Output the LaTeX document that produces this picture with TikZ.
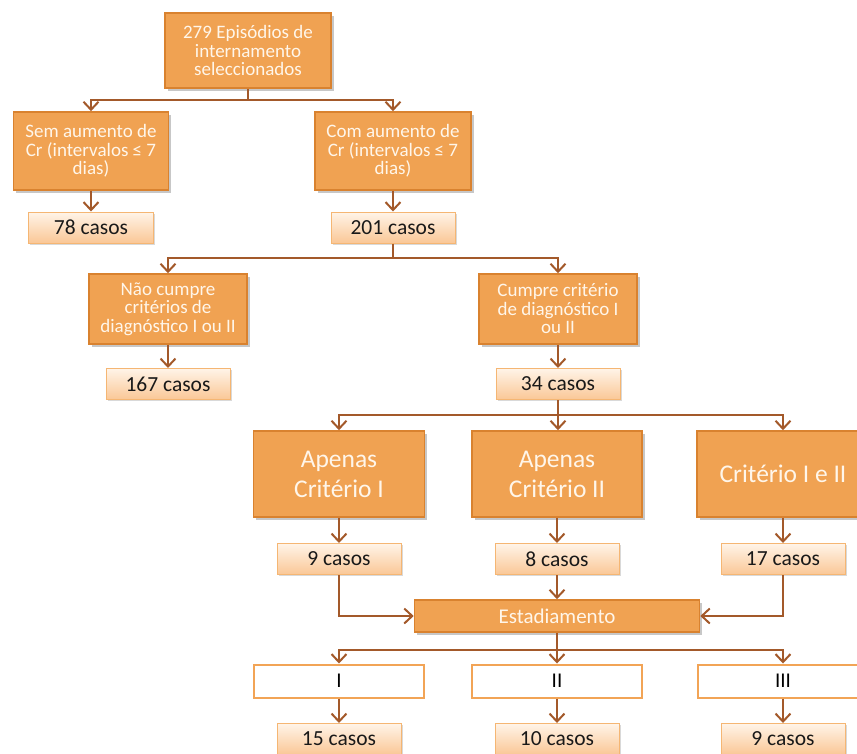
\documentclass[tikz,border=0pt]{standalone}
\usepackage{fontspec}
\setmainfont{Carlito}
\usetikzlibrary{arrows.meta,shadows}
\definecolor{boxfill}{HTML}{F0A252}
\definecolor{boxline}{HTML}{D9822F}
\definecolor{arrowc}{HTML}{A3592A}
\definecolor{cntline}{HTML}{F5B673}
\definecolor{cnttop}{HTML}{FFF4E8}
\definecolor{cntbot}{HTML}{FAC796}
\definecolor{lvline}{HTML}{F2A456}
\definecolor{txtw}{HTML}{FFF6EA}
\tikzset{
  stagebox/.style={draw=boxline, line width=1.6pt, fill=boxfill, text=txtw,
    align=center, inner sep=0pt,
    drop shadow={shadow xshift=2.5pt, shadow yshift=-2.5pt, fill=black, opacity=0.22}},
  countbox/.style={draw=cntline, line width=1pt, top color=cnttop, bottom color=cntbot,
    text=black!90, inner sep=0pt, minimum height=31pt,
    font=\fontsize{21.5}{24}\selectfont,
    drop shadow={shadow xshift=1.5pt, shadow yshift=-1.5pt, fill=black, opacity=0.15}},
  levelbox/.style={draw=lvline, line width=2pt, fill=white, text=black,
    inner sep=0pt, minimum width=170pt, minimum height=33pt,
    font=\fontsize{21}{24}\selectfont},
  link/.style={draw=arrowc, line width=2pt},
  arr/.style={link, -{Straight Barb[length=8pt,width=15pt,line width=2pt]}},
  smalltxt/.style={font=\fontsize{19}{18.5}\selectfont},
  bigtxt/.style={font=\fontsize{25.5}{30}\selectfont}
}
\begin{document}
\begin{tikzpicture}[x=1pt,y=-1pt]
\useasboundingbox (0,0) rectangle (857,753);
\begin{scope}
\clip (0,0) rectangle (857,753);

% first split: creatinine rise
\node[stagebox, smalltxt, minimum width=166pt, minimum height=75pt] (top) at (248,50.5)
  {279 Episódios de\\internamento\\seleccionados};
\node[stagebox, smalltxt, minimum width=155pt, minimum height=78pt] (sem) at (91,151)
  {Sem aumento de\\Cr (intervalos ≤ 7\\dias)};
\node[stagebox, smalltxt, minimum width=156pt, minimum height=78pt] (com) at (393,151)
  {Com aumento de\\Cr (intervalos ≤ 7\\dias)};
\node[countbox, minimum width=125pt] (c78) at (91,227.5) {78 casos};
\node[countbox, minimum width=124pt] (c201) at (393,227.5) {201 casos};

% second split: diagnostic criteria
\node[stagebox, smalltxt, minimum width=158pt, minimum height=70pt] (nao) at (168,309)
  {Não cumpre\\critérios de\\diagnóstico I ou II};
\node[stagebox, smalltxt, minimum width=158pt, minimum height=70pt] (cum) at (558,309)
  {Cumpre critério\\de diagnóstico I\\ou II};
\node[countbox, minimum width=124pt] (c167) at (168,384) {167 casos};
\node[countbox, minimum width=124pt] (c34) at (558,384) {34 casos};

% third split: which criterion
\node[stagebox, bigtxt, minimum width=171pt, minimum height=86pt] (ap1) at (339,474)
  {Apenas\\Critério I};
\node[stagebox, bigtxt, minimum width=170pt, minimum height=86pt] (ap2) at (557,474)
  {Apenas\\Critério II};
\node[stagebox, bigtxt, minimum width=172pt, minimum height=86pt] (amb) at (783,474)
  {Critério I e II};
\node[countbox, minimum width=124pt] (c9) at (339,559) {9 casos};
\node[countbox, minimum width=124pt] (c8) at (557,559) {8 casos};
\node[countbox, minimum width=124pt] (c17) at (783,559) {17 casos};

% staging
\node[stagebox, font=\fontsize{21}{24}\selectfont, minimum width=285pt, minimum height=32pt] (est) at (557,616)
  {Estadiamento};
\node[levelbox] (s1) at (339,681) {I};
\node[levelbox] (s2) at (557,681) {II};
\node[levelbox] (s3) at (783,681) {III};
\node[countbox, minimum width=124pt] (c15) at (339,739) {15 casos};
\node[countbox, minimum width=124pt] (c10) at (557,739) {10 casos};
\node[countbox, minimum width=124pt] (c9b) at (783,739) {9 casos};

% branching points
\coordinate (j1) at (248,100);
\coordinate (j2) at (393,258);
\coordinate (j3) at (558,415);
\coordinate (j4) at (557,650);

% connectors
\draw[link] (top.south) -- (j1);
\draw[arr] (j1) -| (sem.north);
\draw[arr] (j1) -| (com.north);
\draw[arr] (sem.south) -- (c78.north);
\draw[arr] (com.south) -- (c201.north);

\draw[link] (c201.south) -- (j2);
\draw[arr] (j2) -| (nao.north);
\draw[arr] (j2) -| (cum.north);
\draw[arr] (nao.south) -- (c167.north);
\draw[arr] (cum.south) -- (c34.north);

\draw[link] (c34.south) -- (j3);
\draw[arr] (j3) -| (ap1.north);
\draw[arr] (j3) -- (j3 |- ap2.north);
\draw[arr] (j3) -| (amb.north);
\draw[arr] (ap1.south) -- (c9.north);
\draw[arr] (ap2.south) -- (c8.north);
\draw[arr] (amb.south) -- (c17.north);

\draw[arr] (c9.south) |- (est.west);
\draw[arr] (c8.south) -- (est.north);
\draw[arr] (c17.south) |- (est.east);

\draw[link] (est.south) -- (j4);
\draw[arr] (j4) -| (s1.north);
\draw[arr] (j4) -- (s2.north);
\draw[arr] (j4) -| (s3.north);
\draw[arr] (s1.south) -- (c15.north);
\draw[arr] (s2.south) -- (c10.north);
\draw[arr] (s3.south) -- (c9b.north);
\end{scope}
\end{tikzpicture}
\end{document}
